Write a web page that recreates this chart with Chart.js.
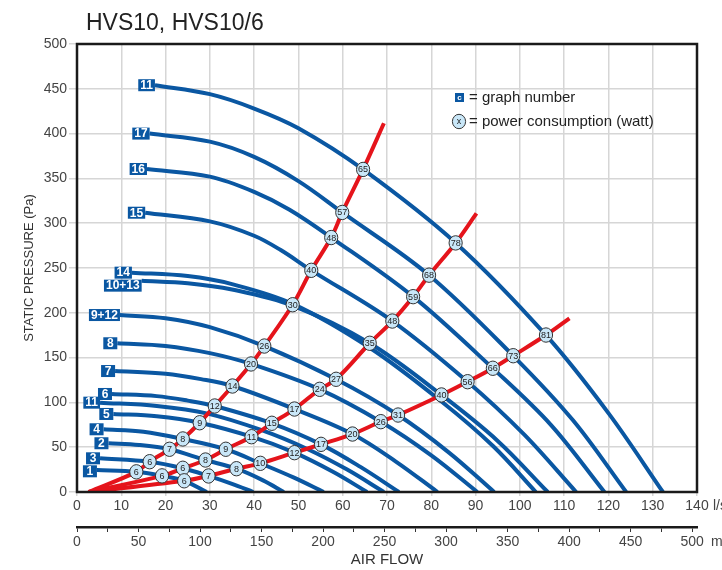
<!DOCTYPE html>
<html>
<head>
<meta charset="utf-8">
<script src="https://cdn.jsdelivr.net/npm/chart.js@4.4.0/dist/chart.umd.min.js"></script>
<style>
  body { margin: 0; background: #fff; }
</style>
</head>
<body>
<canvas id="fanChart" width="722" height="570"></canvas>
<script>
// graph numbers, top curve first
var curveNames = ['11', '17', '16', '15', '14', '10+13', '9+12', '8', '7', '6', '11', '5', '4', '2', '3', '1'];

// fan curves, air flow (l/s) and static pressure (Pa)
var curveX = [
    [17.6, 30, 40, 50, 64.6, 85.5, 105.9, 120, 132.3],
    [16.4, 30, 40, 50, 59.9, 79.5, 98.5, 112, 124],
    [15.8, 30, 40, 48, 57.4, 75.9, 93.9, 107, 119.1],
    [15.4, 30, 40, 46, 52.9, 71.2, 88.2, 101, 112.7],
    [12.4, 25, 35, 48.7, 66.1, 82.3, 94, 103.6],
    [14.6, 25, 35, 48.7, 66.1, 82.3, 95, 106.3],
    [9.7, 20, 30, 42.3, 58.5, 72.5, 84, 94.2],
    [9.1, 20, 30, 39.3, 54.8, 68.6, 80, 90.4],
    [8.6, 20, 28, 35.1, 49.1, 62.2, 72, 81.4],
    [7.9, 18, 25, 31.1, 44, 55.1, 64, 72.7],
    [5.2, 18, 29.5, 41.7, 52, 61, 69.3],
    [8.2, 18, 27.7, 39.4, 49.1, 58, 65.5],
    [6, 15, 23.9, 33.6, 41.4, 49, 55.7],
    [7.1, 14, 20.9, 29, 36, 42, 46.7],
    [5.2, 16.4, 23.9, 29.7, 35, 39.8],
    [4.5, 13.4, 19.2, 24.2, 29.3]
];
var curveY = [
    [454, 444, 428, 406, 360, 278, 175, 88, 0],
    [400, 391, 374, 347, 312, 242, 152, 80, 0],
    [360.5, 352, 335, 315, 284, 218, 138, 75, 0],
    [311.7, 302, 286, 270, 247.4, 190.8, 123.1, 64, 0],
    [244.8, 241, 232, 210, 161, 101, 51, 0],
    [235.8, 233, 226, 208, 166, 108.3, 57, 0],
    [197.5, 194, 184, 162.9, 125.8, 85.9, 44, 0],
    [166, 163, 155, 142.9, 114.6, 78.5, 41, 0],
    [135, 132, 126, 118.3, 92.6, 64.7, 34, 0],
    [109.4, 107, 102, 96, 76.7, 53.2, 28, 0],
    [99.7, 96, 87.5, 69, 48, 25, 0],
    [87.1, 84.6, 77.3, 61.7, 43.9, 22, 0],
    [70, 67.3, 59.2, 47.7, 32, 16, 0],
    [54.4, 52.5, 47.7, 35.7, 26, 13, 0],
    [37.6, 33.8, 26.5, 17.9, 9, 0],
    [24.6, 22.5, 18, 12.5, 0]
];

// system curves (red) with power consumption in watt where they cross a fan curve
var sysAX = [2.6, 13.4, 16.4, 20.9, 23.9, 27.7, 31.1, 35.1, 39.3, 42.3, 48.7, 52.9, 57.4, 59.9, 64.6, 69.3];
var sysAY = [0, 22.5, 33.8, 47.7, 59.2, 77.3, 96, 118.3, 142.9, 162.9, 209, 247.4, 284, 312, 360, 411.5];
var sysAW = [null, 6, 6, 7, 8, 9, 12, 14, 20, 26, 30, 40, 48, 57, 65, null];

var sysBX = [2.6, 19.2, 23.9, 29, 33.6, 39.4, 44, 49.1, 54.8, 58.5, 66.1, 71.2, 75.9, 79.5, 85.5, 90.2];
var sysBY = [0, 18, 26.5, 35.7, 47.7, 61.7, 76.7, 92.6, 114.6, 125.8, 166, 190.8, 218, 242, 278, 311];
var sysBW = [null, 6, 6, 8, 9, 11, 15, 17, 24, 27, 35, 48, 59, 68, 78, null];

var sysCX = [2.6, 24.2, 29.7, 36, 41.4, 49.1, 55.1, 62.2, 68.6, 72.5, 82.3, 88.2, 93.9, 98.5, 105.9, 111.2];
var sysCY = [0, 12.5, 17.9, 26, 32, 43.9, 53.2, 64.7, 78.5, 85.9, 108.3, 123.1, 138.1, 152.1, 175.2, 193.9];
var sysCW = [null, 6, 7, 8, 10, 12, 17, 20, 26, 31, 40, 56, 66, 73, 81, null];

var BLUE = '#0a57a2';
var RED = '#e5141b';
var LIGHT = '#c9e7f8';
var FONT = '"Liberation Sans", Arial, sans-serif';

function pts(xs, ys) {
    return xs.map(function (x, i) {
        return { x: x, y: ys[i] };
    });
}

var datasets = [];
for (var i = 0; i < curveNames.length; i++) {
    datasets.push({
        data: pts(curveX[i], curveY[i]),
        borderColor: BLUE,
        borderWidth: 4,
        order: 2
    });
}
var sysX = [sysAX, sysBX, sysCX];
var sysY = [sysAY, sysBY, sysCY];
var sysW = [sysAW, sysBW, sysCW];
for (var j = 0; j < 3; j++) {
    datasets.push({
        data: pts(sysX[j], sysY[j]),
        borderColor: RED,
        borderWidth: 4,
        order: 1
    });
}

function ellipseLabel(ctx, x, y, txt) {
    ctx.beginPath();
    ctx.ellipse(x, y, 6.6, 7.2, 0, 0, Math.PI * 2);
    ctx.fillStyle = LIGHT;
    ctx.fill();
    ctx.lineWidth = 1;
    ctx.strokeStyle = '#333';
    ctx.stroke();
    ctx.fillStyle = '#222';
    ctx.font = '9px ' + FONT;
    ctx.textAlign = 'center';
    ctx.textBaseline = 'middle';
    ctx.fillText(txt, x, y + 0.5);
}

var labelPlugin = {
    id: 'labels',
    afterDatasetsDraw: function (chart) {
        var ctx = chart.ctx, xs = chart.scales.x, ys = chart.scales.y, a = chart.chartArea;
        ctx.save();

        // frame
        ctx.strokeStyle = '#1a1a1a';
        ctx.lineWidth = 2.5;
        ctx.strokeRect(a.left, a.top, a.right - a.left, a.bottom - a.top);

        // power consumption
        for (var j = 0; j < 3; j++) {
            for (var k = 0; k < sysW[j].length; k++) {
                if (sysW[j][k] === null) continue;
                ellipseLabel(ctx, xs.getPixelForValue(sysX[j][k]), ys.getPixelForValue(sysY[j][k]), String(sysW[j][k]));
            }
        }

        // graph numbers, pushed down a little when two boxes would overlap
        ctx.font = 'bold 12px ' + FONT;
        ctx.textAlign = 'center';
        ctx.textBaseline = 'middle';
        var boxes = [];
        for (var i = 0; i < curveNames.length; i++) {
            var x0 = xs.getPixelForValue(curveX[i][0]);
            var y0 = ys.getPixelForValue(curveY[i][0]);
            var w = Math.max(14, ctx.measureText(curveNames[i]).width + 4);
            var top = y0 - 6;
            boxes.forEach(function (b) {
                var ox = Math.min(b.r, x0) - Math.max(b.l, x0 - w);
                if (ox > 4 && top < b.b && top + 12 > b.t) top = b.b + 1;
            });
            boxes.push({ l: x0 - w, r: x0, t: top, b: top + 12 });
            ctx.fillStyle = BLUE;
            ctx.fillRect(x0 - w, top, w, 12);
            ctx.fillStyle = '#fff';
            ctx.fillText(curveNames[i], x0 - w / 2, top + 6.5);
        }

        // key
        ctx.fillStyle = BLUE;
        ctx.fillRect(455, 93, 9, 9);
        ctx.fillStyle = '#fff';
        ctx.font = 'bold 8px ' + FONT;
        ctx.fillText('c', 459.5, 97.5);
        ellipseLabel(ctx, 459, 121.5, 'x');
        ctx.fillStyle = '#222';
        ctx.font = '15px ' + FONT;
        ctx.textAlign = 'left';
        ctx.fillText('= graph number', 469, 98);
        ctx.fillText('= power consumption (watt)', 469, 122);

        // title and units
        ctx.font = '23px ' + FONT;
        ctx.textBaseline = 'alphabetic';
        ctx.fillText('HVS10, HVS10/6', 86, 30);
        ctx.fillStyle = '#444';
        ctx.font = '14px ' + FONT;
        ctx.textBaseline = 'middle';
        ctx.fillText('l/s', 713, 506);
        ctx.fillText('m³/h', 711, 542);
        ctx.restore();
    }
};

var tickFont = { family: FONT, size: 14 };

var fanChart = new Chart(document.getElementById('fanChart').getContext('2d'), {
    type: 'scatter',
    data: { datasets: datasets },
    options: {
        responsive: false,
        animation: false,
        showLine: true,
        events: [],
        layout: { padding: { left: 18, right: 25, top: 44, bottom: 0 } },
        elements: {
            point: { radius: 0 },
            line: { tension: 0.35, fill: false }
        },
        plugins: {
            legend: { display: false },
            tooltip: { enabled: false },
            title: { display: false }
        },
        scales: {
            x: {
                type: 'linear',
                position: 'bottom',
                min: 0,
                max: 140,
                ticks: { stepSize: 10, font: tickFont, color: '#444', padding: 2, maxRotation: 0 },
                grid: { color: '#d6d6d6', lineWidth: 1.5, tickLength: 4 },
                border: { display: false },
                afterFit: function (s) { s.height = 35; }
            },
            x2: {
                type: 'linear',
                position: 'bottom',
                min: 0,
                max: 504,
                ticks: {
                    stepSize: 25,
                    includeBounds: false,
                    font: tickFont,
                    color: '#444',
                    padding: 2,
                    maxRotation: 0,
                    autoSkip: false,
                    callback: function (v) { return v % 50 === 0 ? v : ''; }
                },
                grid: { drawOnChartArea: false, color: '#333', lineWidth: 1, tickLength: 5 },
                border: { display: true, color: '#1a1a1a', width: 2.5 },
                title: { display: true, text: 'AIR FLOW', font: { family: FONT, size: 15 }, color: '#333', padding: { top: 0, bottom: 1 } },
                afterFit: function (s) { s.height = 43; }
            },
            y: {
                min: 0,
                max: 500,
                ticks: { stepSize: 50, font: tickFont, color: '#444', padding: 2 },
                grid: { color: '#d6d6d6', lineWidth: 1.5, tickLength: 8 },
                border: { display: false },
                title: { display: true, text: 'STATIC PRESSURE (Pa)', font: { family: FONT, size: 13 }, color: '#333' },
                afterFit: function (s) { s.width = 59; }
            }
        }
    },
    plugins: [labelPlugin]
});
</script>
</body>
</html>
